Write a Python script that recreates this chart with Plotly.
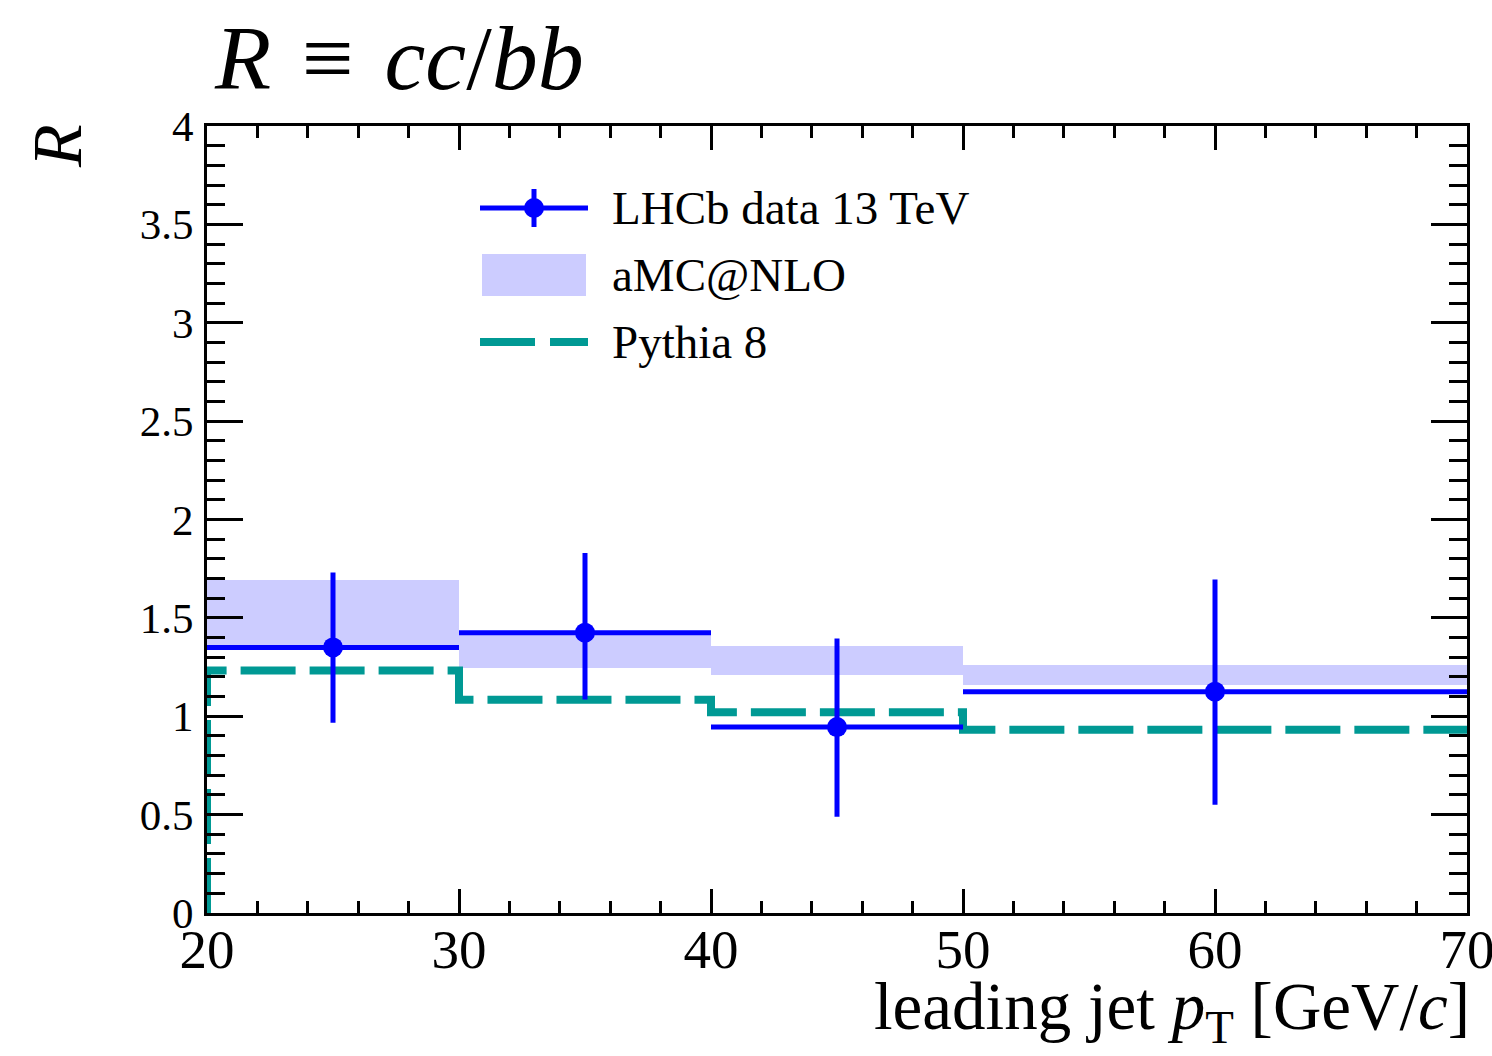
import plotly.graph_objects as go

# ---- data ----
bin_lo = [20, 30, 40, 50]
bin_hi = [30, 40, 50, 70]
data_x = [25, 35, 45, 60]
data_y = [1.35, 1.425, 0.945, 1.125]
err_up = [0.38, 0.405, 0.45, 0.57]
err_dn = [0.383, 0.34, 0.456, 0.575]
amc_lo = [1.337, 1.245, 1.21, 1.159]
amc_hi = [1.692, 1.43, 1.357, 1.26]
pythia = [1.232, 1.084, 1.02, 0.931]

FONT = "Liberation Serif"
BLUE = "rgb(0,0,255)"
TEAL = "rgb(0,153,148)"
BAND = "rgb(204,204,255)"

W, H = 1492, 1056
L, R, T, B = 207, 25, 126, 143
PW, PH = W - L - R, H - T - B


def px(xp):
    return (xp - L) / PW


def py(yp):
    return (H - B - yp) / PH


centers = [(a + b) / 2 for a, b in zip(bin_lo, bin_hi)]
widths = [b - a for a, b in zip(bin_lo, bin_hi)]
half = [w / 2 for w in widths]

fig = go.Figure()

# aMC@NLO band
fig.add_trace(go.Bar(
    x=centers, width=widths, base=amc_lo,
    y=[h - l for h, l in zip(amc_hi, amc_lo)],
    marker=dict(color=BAND, line=dict(width=0)),
    name="aMC@NLO", showlegend=False,
))

# Pythia 8 step
step_x = [bin_lo[0]] + bin_lo + [bin_hi[-1]]
step_y = [0] + pythia + [pythia[-1]]
fig.add_trace(go.Scatter(
    x=step_x, y=step_y, mode="lines", line_shape="hv",
    line=dict(color=TEAL, width=8, dash="55px,14px"),
    name="Pythia 8", showlegend=False,
))

# LHCb data
fig.add_trace(go.Scatter(
    x=data_x, y=data_y, mode="markers",
    marker=dict(color=BLUE, size=20, symbol="circle"),
    error_x=dict(type="data", array=half, symmetric=True, width=0,
                 thickness=5, color=BLUE),
    error_y=dict(type="data", array=err_up, arrayminus=err_dn,
                 symmetric=False, width=0, thickness=5, color=BLUE),
    name="LHCb data 13 TeV", showlegend=False,
))

shapes = []
annotations = []

# custom legend
ly = [208, 275, 342]
# row 1: data
shapes.append(dict(type="line", xref="paper", yref="paper",
                   x0=px(480), x1=px(588), y0=py(ly[0]), y1=py(ly[0]),
                   line=dict(color=BLUE, width=5)))
shapes.append(dict(type="line", xref="paper", yref="paper",
                   x0=px(534), x1=px(534), y0=py(ly[0] - 19), y1=py(ly[0] + 19),
                   line=dict(color=BLUE, width=5)))
shapes.append(dict(type="circle", xref="paper", yref="paper",
                   x0=px(524), x1=px(544), y0=py(ly[0] - 10), y1=py(ly[0] + 10),
                   fillcolor=BLUE, line=dict(color=BLUE, width=0)))
# row 2: band
shapes.append(dict(type="rect", xref="paper", yref="paper",
                   x0=px(482), x1=px(586), y0=py(ly[1] - 21), y1=py(ly[1] + 21),
                   fillcolor=BAND, line=dict(width=0)))
# row 3: pythia
shapes.append(dict(type="line", xref="paper", yref="paper",
                   x0=px(480), x1=px(588), y0=py(ly[2]), y1=py(ly[2]),
                   line=dict(color=TEAL, width=8, dash="55px,15px")))

legend_labels = ["LHCb data 13 TeV", "aMC@NLO", "Pythia 8"]
for lab, yy in zip(legend_labels, ly):
    annotations.append(dict(text=lab, xref="paper", yref="paper",
                            x=px(610), y=py(yy), xanchor="left", yanchor="middle",
                            showarrow=False, font=dict(family=FONT, size=47, color="black")))

# title
annotations.append(dict(text="<i>R</i>\u2004\u2261\u2004<i>cc</i>/<i>bb</i>",
                        xref="paper", yref="paper",
                        x=px(212), y=py(58), xanchor="left", yanchor="middle",
                        showarrow=False, font=dict(family=FONT, size=92, color="black")))
# x axis title
annotations.append(dict(text="leading jet <i>p</i><sub>T</sub> [GeV/<i>c</i>]",
                        xref="paper", yref="paper",
                        x=px(1472), y=py(1011), xanchor="right", yanchor="middle",
                        showarrow=False, font=dict(family=FONT, size=67, color="black")))
# y axis title
annotations.append(dict(text="<i>R</i>", xref="paper", yref="paper",
                        x=px(57), y=py(146), xanchor="center", yanchor="middle",
                        textangle=-90, showarrow=False,
                        font=dict(family=FONT, size=70, color="black")))

fig.update_layout(
    width=W, height=H, autosize=False,
    margin=dict(l=L, r=R, t=T, b=B, pad=0, autoexpand=False),
    paper_bgcolor="white", plot_bgcolor="white",
    barmode="overlay", bargap=0,
    showlegend=False,
    shapes=shapes, annotations=annotations,
    font=dict(family=FONT, color="black"),
)

fig.update_xaxes(
    range=[20, 70], dtick=10, tick0=20, showgrid=False, zeroline=False,
    showline=True, linecolor="black", linewidth=3, mirror="ticks",
    ticks="inside", ticklen=24, tickwidth=3, tickcolor="black",
    tickfont=dict(family=FONT, size=55, color="black"),
    ticklabeloverflow="allow", ticklabelstandoff=-14, automargin=False,
    minor=dict(dtick=2, ticklen=12, tickwidth=3, tickcolor="black", ticks="inside", showgrid=False),
)
fig.update_yaxes(
    range=[0, 4], dtick=0.5, tick0=0, showgrid=False, zeroline=False,
    showline=True, linecolor="black", linewidth=3, mirror="ticks",
    ticks="inside", ticklen=36, tickwidth=3, tickcolor="black",
    tickfont=dict(family=FONT, size=43, color="black"),
    ticklabelstandoff=2, automargin=False,
    minor=dict(dtick=0.1, ticklen=18, tickwidth=3, tickcolor="black", ticks="inside", showgrid=False),
)

fig.write_html("out.html")
